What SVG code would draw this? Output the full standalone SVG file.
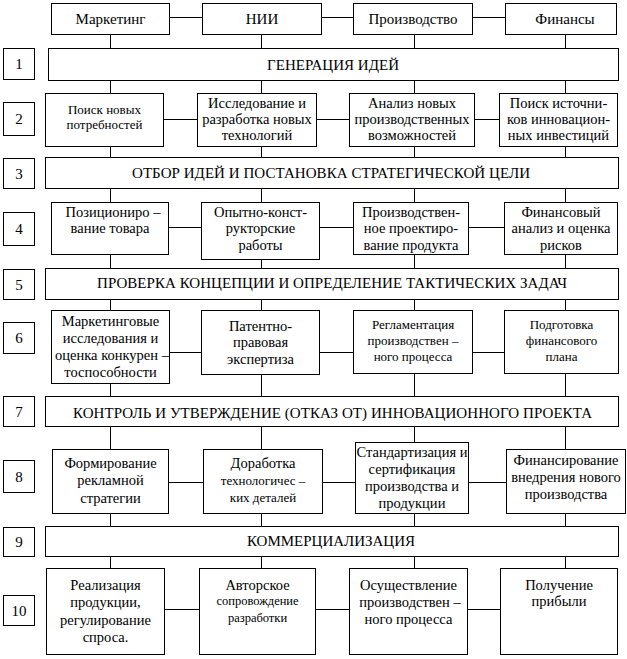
<svg xmlns="http://www.w3.org/2000/svg" width="627" height="659" viewBox="0 0 627 659">
<style>
rect{fill:#fff;stroke:#000;stroke-width:1}
#connectors line{stroke:#000;stroke-width:1}
text{font-family:'Liberation Serif','Times New Roman',Times,'DejaVu Serif',serif;font-size:14.5px;text-anchor:middle;fill:#000}
.h{font-size:15px}
.s{font-size:13px}
.xs{font-size:12.5px}
</style>
<rect x="0" y="0" width="627" height="659" style="stroke:none"/>
<g id="connectors">
<line x1="169" y1="17.5" x2="202" y2="17.5"/><line x1="321" y1="17.5" x2="353" y2="17.5"/><line x1="472" y1="17.5" x2="505" y2="17.5"/>
<line x1="110.5" y1="34" x2="110.5" y2="48"/><line x1="261.5" y1="34" x2="261.5" y2="48"/><line x1="414.5" y1="34" x2="414.5" y2="48"/><line x1="565.5" y1="34" x2="565.5" y2="48"/>
<line x1="110.5" y1="80" x2="110.5" y2="93"/><line x1="261.5" y1="80" x2="261.5" y2="93"/><line x1="414.5" y1="80" x2="414.5" y2="93"/><line x1="565.5" y1="80" x2="565.5" y2="93"/>
<line x1="163" y1="119.5" x2="197" y2="119.5"/><line x1="316" y1="119.5" x2="349" y2="119.5"/><line x1="474" y1="119.5" x2="499" y2="119.5"/>
<line x1="110.5" y1="146" x2="110.5" y2="157"/><line x1="261.5" y1="146" x2="261.5" y2="157"/><line x1="414.5" y1="146" x2="414.5" y2="157"/><line x1="565.5" y1="146" x2="565.5" y2="157"/>
<line x1="110.5" y1="188" x2="110.5" y2="202"/><line x1="261.5" y1="188" x2="261.5" y2="202"/><line x1="414.5" y1="188" x2="414.5" y2="202"/><line x1="565.5" y1="188" x2="565.5" y2="202"/>
<line x1="168" y1="227.5" x2="201" y2="227.5"/><line x1="319" y1="227.5" x2="353" y2="227.5"/><line x1="468" y1="227.5" x2="504" y2="227.5"/>
<line x1="110.5" y1="254" x2="110.5" y2="268"/><line x1="261.5" y1="259" x2="261.5" y2="268"/><line x1="414.5" y1="254" x2="414.5" y2="268"/><line x1="565.5" y1="254" x2="565.5" y2="268"/>
<line x1="110.5" y1="299" x2="110.5" y2="310"/><line x1="261.5" y1="299" x2="261.5" y2="310"/><line x1="414.5" y1="299" x2="414.5" y2="310"/><line x1="565.5" y1="299" x2="565.5" y2="310"/>
<line x1="169" y1="352.5" x2="201" y2="352.5"/><line x1="319" y1="352.5" x2="353" y2="352.5"/><line x1="472" y1="352.5" x2="504" y2="352.5"/>
<line x1="110.5" y1="383" x2="110.5" y2="396"/><line x1="261.5" y1="374" x2="261.5" y2="396"/><line x1="414.5" y1="373" x2="414.5" y2="396"/><line x1="565.5" y1="373" x2="565.5" y2="396"/>
<line x1="110.5" y1="426" x2="110.5" y2="449"/><line x1="261.5" y1="426" x2="261.5" y2="449"/><line x1="414.5" y1="426" x2="414.5" y2="442"/><line x1="565.5" y1="426" x2="565.5" y2="449"/>
<line x1="168" y1="482.5" x2="203" y2="482.5"/><line x1="322" y1="482.5" x2="355" y2="482.5"/><line x1="468" y1="482.5" x2="506" y2="482.5"/>
<line x1="110.5" y1="513" x2="110.5" y2="526"/><line x1="261.5" y1="513" x2="261.5" y2="526"/><line x1="414.5" y1="513" x2="414.5" y2="526"/><line x1="565.5" y1="513" x2="565.5" y2="526"/>
<line x1="110.5" y1="556" x2="110.5" y2="568"/><line x1="261.5" y1="556" x2="261.5" y2="568"/><line x1="414.5" y1="556" x2="414.5" y2="568"/><line x1="565.5" y1="556" x2="565.5" y2="568"/>
<line x1="164" y1="609.5" x2="199" y2="609.5"/><line x1="315" y1="609.5" x2="349" y2="609.5"/><line x1="467" y1="609.5" x2="500" y2="609.5"/>
</g>
<g font-family="'Liberation Serif', 'Times New Roman', serif">
<g id="h-marketing"><rect x="51.5" y="3.5" width="118" height="31"/><text class="h" x="110.5" y="24">Маркетинг</text></g>
<g id="h-nii"><rect x="202.5" y="3.5" width="119" height="31"/><text class="h" x="262" y="24">НИИ</text></g>
<g id="h-prod"><rect x="353.5" y="3.5" width="119" height="31"/><text class="h" x="413" y="24">Производство</text></g>
<g id="h-fin"><rect x="505.5" y="3.5" width="111" height="31"/><text class="h" x="565" y="24">Финансы</text></g>

<g id="n1"><rect x="3.5" y="48.5" width="31" height="31"/><text class="h" x="19" y="69">1</text></g>
<g id="s1"><rect x="48.5" y="48.5" width="570" height="32"/><text class="h" x="333" y="70" textLength="132" lengthAdjust="spacing">ГЕНЕРАЦИЯ ИДЕЙ</text></g>

<g id="n2"><rect x="3.5" y="102.5" width="31" height="33"/><text class="h" x="19" y="124">2</text></g>
<g id="b21"><rect x="45.5" y="93.5" width="118" height="53"/><text class="s" x="104.5" y="114">Поиск новых</text><text class="s" x="104.5" y="129">потребностей</text></g>
<g id="b22"><rect x="197.5" y="93.5" width="119" height="53"/><text x="257" y="108">Исследование и</text><text x="257" y="124">разработка новых</text><text x="257" y="140">технологий</text></g>
<g id="b23"><rect x="349.5" y="93.5" width="125" height="53"/><text x="412" y="108">Анализ новых</text><text x="412" y="124">производственных</text><text x="412" y="140">возможностей</text></g>
<g id="b24"><rect x="499.5" y="93.5" width="118" height="53"/><text x="558.5" y="108">Поиск источни-</text><text x="558.5" y="124">ков инновацион-</text><text x="558.5" y="140">ных инвестиций</text></g>

<g id="n3"><rect x="3.5" y="158.5" width="31" height="30"/><text class="h" x="19" y="179">3</text></g>
<g id="s3"><rect x="45.5" y="157.5" width="573" height="31"/><text class="h" x="331" y="178" textLength="398" lengthAdjust="spacing">ОТБОР ИДЕЙ И ПОСТАНОВКА СТРАТЕГИЧЕСКОЙ ЦЕЛИ</text></g>

<g id="n4"><rect x="3.5" y="212.5" width="31" height="33"/><text class="h" x="19" y="234">4</text></g>
<g id="b41"><rect x="51.5" y="202.5" width="117" height="52"/><text x="113" y="217">Позициониро –</text><text x="110" y="233">вание товара</text></g>
<g id="b42"><rect x="201.5" y="202.5" width="118" height="57"/><text x="260.5" y="217">Опытно-конст-</text><text x="260.5" y="233">рукторские</text><text x="260.5" y="250">работы</text></g>
<g id="b43"><rect x="353.5" y="202.5" width="115" height="52"/><text x="411" y="217">Производствен-</text><text x="411" y="233">ное проектиро-</text><text x="411" y="250">вание продукта</text></g>
<g id="b44"><rect x="504.5" y="202.5" width="113" height="52"/><text x="561" y="217">Финансовый</text><text x="561" y="233">анализ и оценка</text><text x="561" y="250">рисков</text></g>

<g id="n5"><rect x="3.5" y="269.5" width="31" height="30"/><text class="h" x="19" y="290">5</text></g>
<g id="s5"><rect x="45.5" y="268.5" width="573" height="31"/><text class="h" x="332" y="288" textLength="470" lengthAdjust="spacing">ПРОВЕРКА КОНЦЕПЦИИ И ОПРЕДЕЛЕНИЕ ТАКТИЧЕСКИХ ЗАДАЧ</text></g>

<g id="n6"><rect x="3.5" y="322.5" width="31" height="31"/><text class="h" x="19" y="343">6</text></g>
<g id="b61"><rect x="51.5" y="310.5" width="118" height="73"/><text x="110.5" y="326">Маркетинговые</text><text x="110.5" y="343">исследования и</text><text x="112" y="360">оценка конкурен –</text><text x="110.5" y="377">тоспособности</text></g>
<g id="b62"><rect x="201.5" y="310.5" width="118" height="64"/><text x="260.5" y="331">Патентно-</text><text x="260.5" y="347">правовая</text><text x="260.5" y="364">экспертиза</text></g>
<g id="b63"><rect x="353.5" y="310.5" width="119" height="63"/><text class="s" x="413" y="329">Регламентация</text><text class="s" x="413" y="345">производствен –</text><text class="s" x="413" y="361">ного процесса</text></g>
<g id="b64"><rect x="504.5" y="310.5" width="114" height="63"/><text class="s" x="561.5" y="329">Подготовка</text><text class="s" x="561.5" y="345">финансового</text><text class="s" x="561.5" y="361">плана</text></g>

<g id="n7"><rect x="3.5" y="396.5" width="31" height="30"/><text class="h" x="19" y="417">7</text></g>
<g id="s7"><rect x="45.5" y="396.5" width="573" height="30"/><text class="h" x="332.5" y="418" textLength="519" lengthAdjust="spacing">КОНТРОЛЬ И УТВЕРЖДЕНИЕ (ОТКАЗ ОТ) ИННОВАЦИОННОГО ПРОЕКТА</text></g>

<g id="n8"><rect x="3.5" y="460.5" width="31" height="32"/><text class="h" x="19" y="482">8</text></g>
<g id="b81"><rect x="52.5" y="449.5" width="116" height="64"/><text x="110.5" y="468">Формирование</text><text x="110.5" y="485">рекламной</text><text x="110.5" y="503">стратегии</text></g>
<g id="b82"><rect x="203.5" y="449.5" width="119" height="64"/><text x="263" y="468">Доработка</text><text class="s" x="263" y="485">технологичес –</text><text class="s" x="263" y="502">ких деталей</text></g>
<g id="b83"><rect x="355.5" y="442.5" width="113" height="71"/><text x="412" y="457">Стандартизация и</text><text x="412" y="474">сертификация</text><text x="412" y="491">производства и</text><text x="412" y="508">продукции</text></g>
<g id="b84"><rect x="506.5" y="449.5" width="119" height="64"/><text x="566" y="465">Финансирование</text><text x="566" y="482">внедрения нового</text><text x="566" y="499">производства</text></g>

<g id="n9"><rect x="3.5" y="527.5" width="31" height="29"/><text class="h" x="19" y="547">9</text></g>
<g id="s9"><rect x="45.5" y="526.5" width="573" height="30"/><text class="h" x="331" y="546" textLength="168" lengthAdjust="spacing">КОММЕРЦИАЛИЗАЦИЯ</text></g>

<g id="n10"><rect x="3.5" y="595.5" width="31" height="30"/><text class="h" x="19" y="616">10</text></g>
<g id="b101"><rect x="46.5" y="568.5" width="118" height="86"/><text x="105.5" y="590">Реализация</text><text x="105.5" y="607">продукции,</text><text x="105.5" y="625">регулирование</text><text x="105.5" y="642">спроса.</text></g>
<g id="b102"><rect x="199.5" y="568.5" width="116" height="86"/><text x="257.5" y="590">Авторское</text><text class="xs" x="257.5" y="605">сопровождение</text><text class="xs" x="257.5" y="622">разработки</text></g>
<g id="b103"><rect x="349.5" y="568.5" width="118" height="86"/><text x="408.5" y="590">Осуществление</text><text x="410" y="607">производствен –</text><text x="408.5" y="624">ного процесса</text></g>
<g id="b104"><rect x="500.5" y="568.5" width="117" height="86"/><text x="559" y="590">Получение</text><text x="559" y="606">прибыли</text></g>
</g>
</svg>
